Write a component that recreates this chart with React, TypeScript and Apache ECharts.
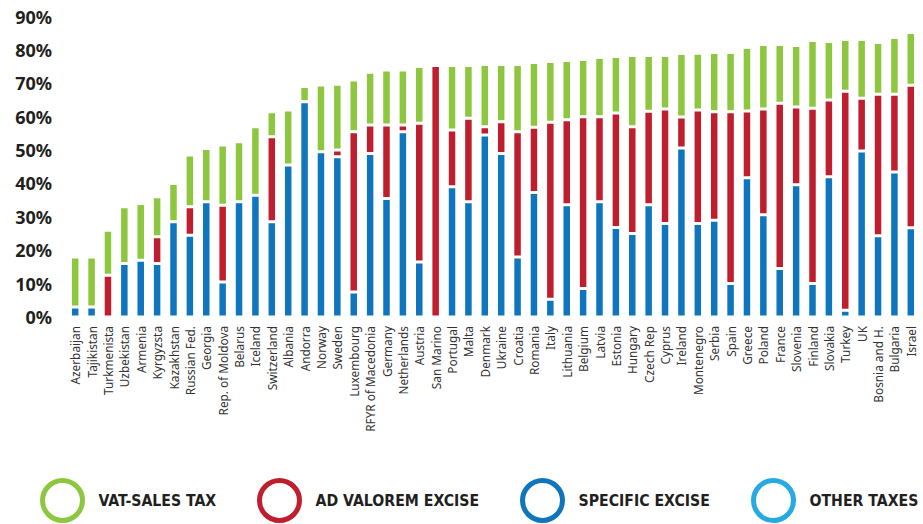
import React, { useEffect, useRef } from "react";
import * as echarts from "echarts";

// Tax components of the retail price of the most popular cigarette brand, by country
const countries = [
  "Azerbaijan", "Tajikistan", "Turkmenista", "Uzbekistan", "Armenia", "Kyrgyzsta",
  "Kazakhstan", "Russian Fed.", "Georgia", "Rep. of Moldova", "Belarus", "Iceland",
  "Switzerland", "Albania", "Andorra", "Norway", "Sweden", "Luxembourg",
  "RFYR of Macedonia", "Germany", "Netherlands", "Austria", "San Marino", "Portugal",
  "Malta", "Denmark", "Ukraine", "Croatia", "Romania", "Italy", "Lithuania", "Belgium",
  "Latvia", "Estonia", "Hungary", "Czech Rep", "Cyprus", "Ireland", "Montenegro",
  "Serbia", "Spain", "Greece", "Poland", "France", "Slovenia", "Finland", "Slovakia",
  "Turkey", "UK", "Bosnia and H.", "Bulgaria", "Israel",
];

const specificExcise = [
  3, 3, 0, 16, 17, 16, 28.5, 24.5, 34.5, 10.5, 34.5, 36.5,
  28.5, 45.5, 64.5, 49.5, 48, 7.5, 49, 35.5, 55.5, 16.5, 0, 39,
  34.5, 54.5, 49, 18, 37.3, 5.3, 33.6, 8.5, 34.5, 26.8, 25, 33.6,
  28, 50.6, 28, 29, 10, 41.7, 30.6, 14.5, 39.6, 10, 42, 2,
  49.7, 24.3, 43.4, 26.7,
];

const adValoremExcise = [
  0, 0, 12.5, 0, 0, 8, 0, 8.5, 0, 23, 0, 0,
  25.5, 0, 0, 0, 2, 48, 8.5, 22, 2, 41.5, 75.3, 17,
  25, 2.5, 9.5, 37.5, 19.5, 53, 25.5, 51.5, 25.5, 34.3, 32, 28,
  34.3, 9.3, 34, 32.5, 51.5, 20, 31.7, 49.5, 23.3, 52.5, 23, 65.6,
  15.8, 42.4, 23.3, 42.7,
];

const vatSalesTax = [
  15, 15, 13.5, 17, 17, 12, 11.5, 15.5, 16, 18, 18, 20.5,
  7.5, 16.5, 4.5, 20, 19.7, 15.5, 15.8, 16.5, 16.5, 17, 0, 19.3,
  15.8, 18.6, 17.1, 20.1, 19.4, 18.2, 17.7, 17.1, 17.7, 16.9, 21.3, 16.7,
  16, 19, 17, 17.7, 17.7, 19, 19.3, 17.6, 18.4, 20.3, 17.5, 15.5,
  17.6, 15.5, 17, 15.8,
];

const otherTaxes = [
  0, 0, 0, 0, 0, 0, 0, 0, 0, 0, 0, 0,
  0, 0, 0, 0, 0, 0, 0, 0, 0, 0, 0, 0,
  0, 0, 0, 0, 0, 0, 0, 0, 0, 0, 0, 0,
  0, 0, 0, 0, 0, 0, 0, 0, 0, 0, 0, 0,
  0, 0, 0, 0,
];

const yMax = 90;
const yStep = 10;

const COLORS = {
  vat: "#8DC63F",
  adValorem: "#BE1E2D",
  specific: "#0F75BC",
  other: "#27AAE1",
};

const NAMES = {
  vat: "VAT-SALES TAX",
  adValorem: "AD VALOREM EXCISE",
  specific: "SPECIFIC EXCISE",
  other: "OTHER TAXES",
};

const TEXT_DARK = "#231F20";
const LEGEND_FONT = '"DejaVu Sans Condensed", "Noto Sans", sans-serif';

// Ring-shaped legend marker
const RING = "path://M20,0 A20,20 0 1 1 20,40 A20,20 0 1 1 20,0 Z";

const toBarData = (values: number[]) => values.map((v) => (v === 0 ? "-" : v));

function ringLegend(name: string, color: string, centerX: number) {
  return {
    selectedMode: false,
    left: centerX - 20,
    top: 478,
    padding: 0,
    itemWidth: 40,
    itemHeight: 40,
    data: [
      {
        name,
        icon: RING,
        itemStyle: { color: "rgba(0,0,0,0)", borderColor: color, borderWidth: 5 },
      },
    ],
    textStyle: {
      fontFamily: LEGEND_FONT,
      fontWeight: "bold",
      fontSize: 15.7,
      color: TEXT_DARK,
      padding: [0, 0, 0, 11],
    },
  };
}

function barSeries(name: string, color: string, values: number[]) {
  return {
    name,
    type: "bar",
    stack: "tax",
    barWidth: 9.5,
    data: toBarData(values),
    itemStyle: { color, borderColor: "#ffffff", borderWidth: 1.5 },
    emphasis: { disabled: true },
  };
}

export default function App() {
  const ref = useRef<HTMLDivElement>(null);

  useEffect(() => {
    if (!ref.current) return;
    const chart = echarts.init(ref.current, undefined, { renderer: "svg" });
    chart.setOption({
      animation: false,
      backgroundColor: "#ffffff",
      grid: { left: 67, right: 4, top: 16.5, bottom: 207 },
      legend: [
        ringLegend(NAMES.vat, COLORS.vat, 60),
        ringLegend(NAMES.adValorem, COLORS.adValorem, 277),
        ringLegend(NAMES.specific, COLORS.specific, 540),
        ringLegend(NAMES.other, COLORS.other, 771),
      ],
      xAxis: {
        type: "category",
        data: countries,
        axisLine: { show: false },
        axisTick: { show: false },
        axisLabel: {
          interval: 0,
          rotate: 90,
          margin: 9,
          fontFamily: '"Noto Sans", sans-serif',
          fontSize: 11.8,
          color: "#333333",
        },
      },
      yAxis: {
        type: "value",
        min: 0,
        max: yMax,
        interval: yStep,
        axisLine: { show: false },
        axisTick: { show: false },
        splitLine: { show: false },
        axisLabel: {
          formatter: "{value}%",
          margin: 15,
          fontFamily: '"Noto Sans", sans-serif',
          fontWeight: "bold",
          fontSize: 18,
          color: TEXT_DARK,
        },
      },
      series: [
        barSeries(NAMES.specific, COLORS.specific, specificExcise),
        barSeries(NAMES.adValorem, COLORS.adValorem, adValoremExcise),
        barSeries(NAMES.vat, COLORS.vat, vatSalesTax),
        barSeries(NAMES.other, COLORS.other, otherTaxes),
      ],
    });
    return () => chart.dispose();
  }, []);

  return (
    <div
      ref={ref}
      style={{ position: "absolute", left: 0, top: 0, width: 923, height: 524 }}
    />
  );
}
